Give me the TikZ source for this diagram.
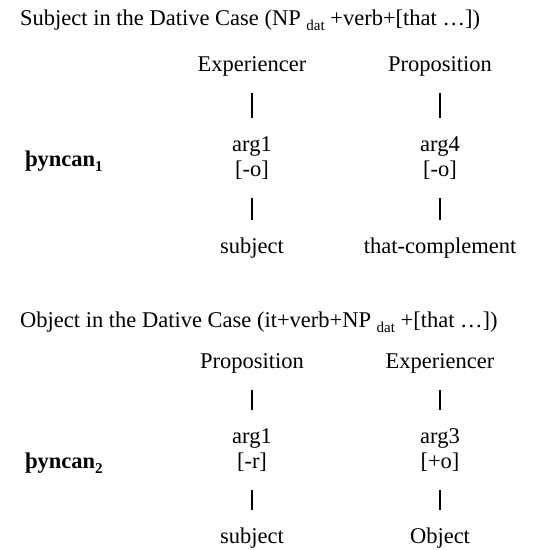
\documentclass[tikz,border=0pt]{standalone}
\usepackage{fontspec}
\setmainfont{Liberation Serif}
\usepackage{tikz}
\usetikzlibrary{positioning}

\begin{document}
\begin{tikzpicture}[
  x=1pt, y=-1pt,
  txt/.style={inner sep=0pt, font=\fontsize{22.5}{26}\selectfont},
  rolebox/.style={txt, anchor=base, text height=15.5pt, text depth=5pt},
  verbbox/.style={txt, anchor=base west, font=\fontsize{22.5}{26}\selectfont\bfseries},
  link/.style={line width=1.3pt, shorten <=17pt, shorten >=17pt}]
\useasboundingbox (0,0) rectangle (547,550);
% subject in the dative
\node[txt, anchor=base west] (t1) at (20,25) {Subject in the Dative Case (NP \raisebox{-0.55ex}{\fontsize{15}{15}\selectfont dat} +verb+[that …])};
\node[verbbox] (v1) at (25,166) {þyncan\raisebox{-0.5ex}{\fontsize{15}{15}\selectfont 1}};
\node[rolebox] (e1) at (252,71) {Experiencer};
\node[rolebox] (p1) at (440,71) {Proposition};
\node[rolebox] (a11) at (252,151) {arg1};
\node[rolebox] (a14) at (440,151) {arg4};
\node[rolebox] (f11) at (252,176) {[-o]};
\node[rolebox] (f14) at (440,176) {[-o]};
\node[rolebox] (s11) at (252,253) {subject};
\node[rolebox] (s14) at (440,253) {that-complement};
% object in the dative
\node[txt, anchor=base west] (t2) at (20,327) {Object in the Dative Case (it+verb+NP \raisebox{-0.55ex}{\fontsize{15}{15}\selectfont dat} +[that …])};
\node[verbbox] (v2) at (25,468) {þyncan\raisebox{-0.5ex}{\fontsize{15}{15}\selectfont 2}};
\node[rolebox] (p2) at (252,368) {Proposition};
\node[rolebox] (e2) at (440,368) {Experiencer};
\node[rolebox] (a21) at (252,443) {arg1};
\node[rolebox] (a23) at (440,443) {arg3};
\node[rolebox] (f21) at (252,468) {[-r]};
\node[rolebox] (f23) at (440,468) {[+o]};
\node[rolebox] (s21) at (252,543) {subject};
\node[rolebox] (s23) at (440,543) {Object};
\foreach \a/\b in {e1/a11,f11/s11,p1/a14,f14/s14,p2/a21,f21/s21,e2/a23,f23/s23}
  \draw[link] (\a) -- (\b);
\end{tikzpicture}
\end{document}
